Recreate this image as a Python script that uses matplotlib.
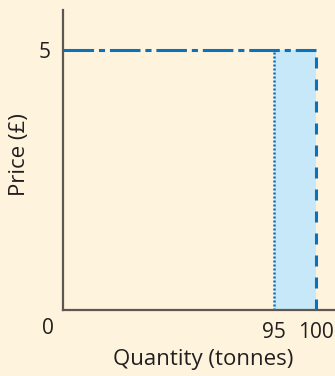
import matplotlib
matplotlib.use("Agg")
import matplotlib.pyplot as plt
import numpy as np

# Data
price = 5
q_low = 95
q_high = 100
x_ticks = [95, 100]
y_ticks = [5]
x_label = "Quantity (tonnes)"
y_label = "Price (£)"

bg = "#FEF3DD"
blue = "#0A72BA"
fill = "#C6E8F8"
axis_col = "#5E5751"
txt = "#231F20"

plt.rcParams['font.family'] = ['Open Sans', 'DejaVu Sans']

# schematic (piecewise-linear) quantity scale
def fwd(x):
    x = np.asarray(x, dtype=float)
    return np.where(x <= 95, x * (211 / 95), 211 + (x - 95) * 8.4)

def inv(y):
    y = np.asarray(y, dtype=float)
    return np.where(y <= 211, y * (95 / 211), 95 + (y - 211) / 8.4)

fig = plt.figure(figsize=(3.35, 3.76), dpi=100, facecolor=bg)
ax = fig.add_axes([63 / 335, 66 / 376, 272 / 335, 300 / 376], facecolor=bg)
ax.set_xscale('function', functions=(fwd, inv))
ax.set_xlim(0, 102.26)
ax.set_ylim(0, 5.77)

ax.fill_between([q_low, q_high], 0, price, color=fill, lw=0, zorder=1)
ax.plot([0, q_high], [price, price], color=blue, lw=2.2,
        dashes=(10, 1.6, 2, 1.6), zorder=3, solid_capstyle='butt')
ax.plot([q_low, q_low], [0, price], color=blue, lw=1.8, dashes=(0.8, 0.8), zorder=3)
ax.plot([q_high, q_high], [0, price], color=blue, lw=2.2, dashes=(3.6, 3.6), zorder=3)

for s in ['top', 'right']:
    ax.spines[s].set_visible(False)
for s in ['left', 'bottom']:
    ax.spines[s].set_color(axis_col)
    ax.spines[s].set_linewidth(1.6)

ax.set_xticks(x_ticks)
ax.set_xticklabels([str(t) for t in x_ticks])
ax.set_yticks(y_ticks)
ax.set_yticklabels([str(t) for t in y_ticks])
ax.xaxis.set_minor_locator(matplotlib.ticker.NullLocator())
ax.tick_params(length=0, labelsize=15, colors=txt)
ax.tick_params(axis='x', pad=9)
ax.tick_params(axis='y', pad=9)

ax.text(-15 / 272, -19 / 300, "0", transform=ax.transAxes, ha='center', va='center',
        fontsize=15, color=txt)

ax.set_xlabel(x_label, fontsize=16, color=txt)
ax.set_ylabel(y_label, fontsize=16, color=txt)
ax.xaxis.set_label_coords((203 - 63) / 272, -(359 - 310) / 300)
ax.yaxis.set_label_coords(-(63 - 20) / 272, (310 - 155) / 300)
ax.xaxis.label.set_va('center')
ax.yaxis.label.set_va('center')

fig.savefig("out.png", dpi=100, facecolor=bg)
